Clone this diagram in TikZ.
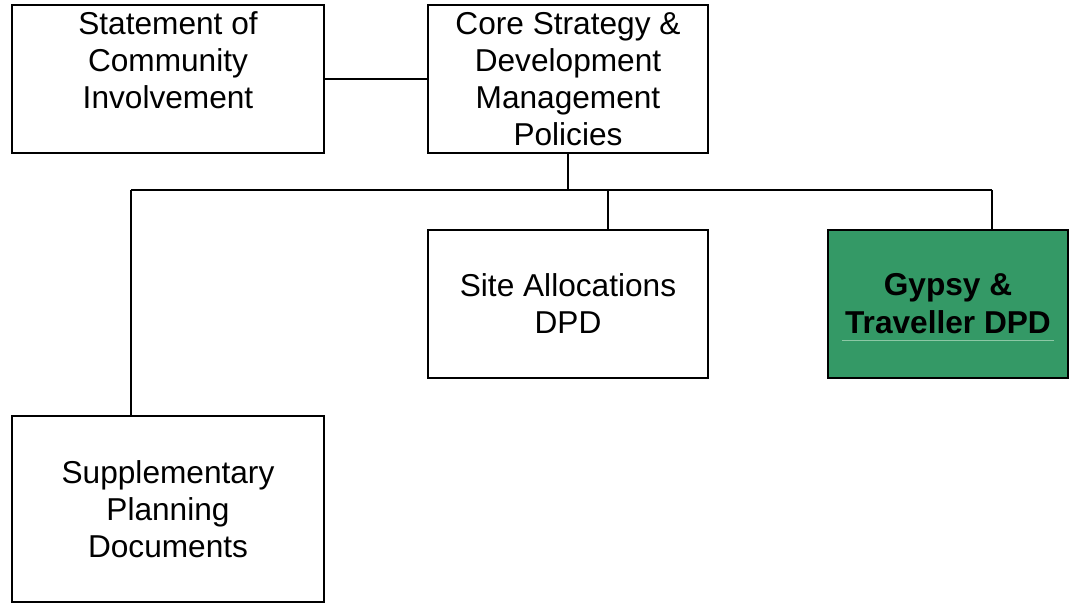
\documentclass[tikz,border=0pt]{standalone}
\usepackage{fontspec}
\setmainfont{Liberation Sans}
\usepackage{tikz}
\usetikzlibrary{positioning}
\definecolor{gypsygreen}{RGB}{52,153,102}
\definecolor{gypsyrule}{RGB}{140,200,165}

\begin{document}
\begin{tikzpicture}[
  every node/.style={scale=1},
  docbox/.style = {draw, line width=1.3pt, inner sep=0pt, align=center,
    font=\fontsize{22.5}{26.3}\selectfont},
  link/.style = {line width=1.3pt}
  ]
	\useasboundingbox (0,0) rectangle (26.725,-15.075);

	\node[docbox,minimum width=7.8cm,minimum height=3.7cm] (sci) at (4.2,-1.975) {Statement of\\Community\\Involvement\\\mbox{}};
	\node[docbox,minimum width=7.0cm,minimum height=3.7cm] (core) at (14.2,-1.975) {Core Strategy \&\\Development\\Management\\Policies};
	\node[docbox,minimum width=7.0cm,minimum height=3.7cm] (site) at (14.2,-7.6) {Site Allocations\\DPD};
	\node[docbox,fill=gypsygreen,minimum width=6.0cm,minimum height=3.7cm,font=\fontsize{22.5}{27}\selectfont\bfseries] (gypsy) at (23.7,-7.6) {Gypsy \&\\Traveller DPD};
	\node[docbox,minimum width=7.8cm,minimum height=4.65cm] (spd) at (4.2,-12.725) {Supplementary\\Planning\\Documents};

	\coordinate (busL) at (3.275,-4.75);
	\coordinate (busR) at (24.8,-4.75);

	\draw[link] (sci) -- (core);
	\draw[link] (core.south) -- (core.south |- busL);
	\draw[link] (busL) -- (busR);
	\draw[link] (busL) -- (busL |- spd.north);
	\draw[link] ([xshift=1cm]site.north |- busL) -- ([xshift=1cm]site.north);
	\draw[link] (busR) -- (busR |- gypsy.north);

	\draw[gypsyrule,line width=0.5pt] ([xshift=-2.64cm,yshift=-0.9cm]gypsy.center) -- ([xshift=2.64cm,yshift=-0.9cm]gypsy.center);

\end{tikzpicture}
\end{document}
